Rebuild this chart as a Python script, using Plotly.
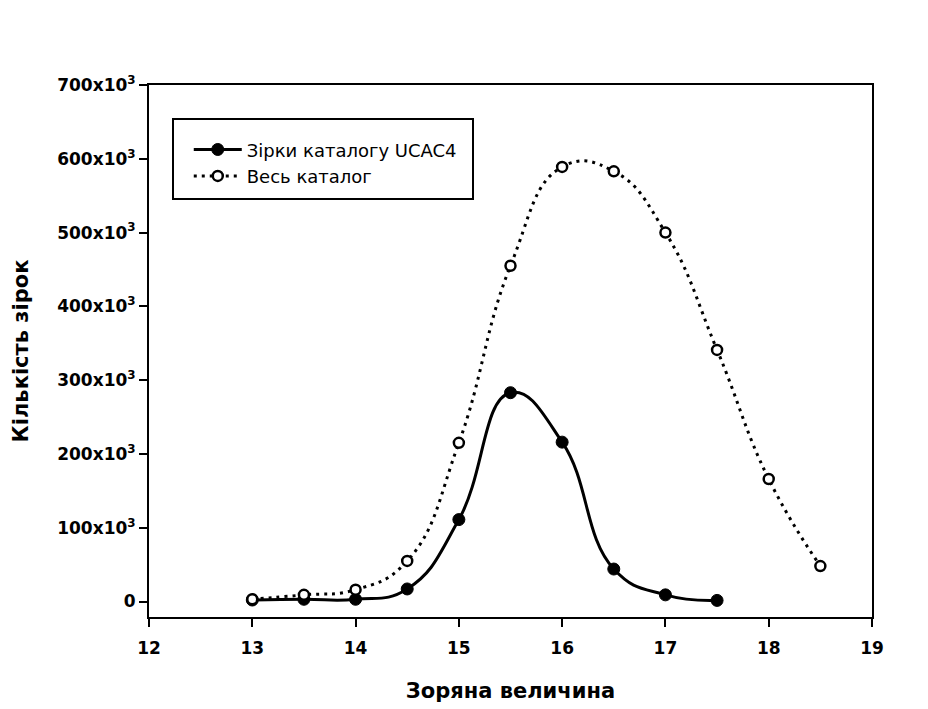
import plotly.graph_objects as go

# Data
magnitudes_ucac4 = [13, 13.5, 14, 14.5, 15, 15.5, 16, 16.5, 17, 17.5]
counts_ucac4 = [2000, 3000, 3000, 17000, 111000, 283000, 216000, 44000, 9000, 1500]

magnitudes_all = [13, 13.5, 14, 14.5, 15, 15.5, 16, 16.5, 17, 17.5, 18, 18.5]
counts_all = [3000, 9000, 16000, 55000, 215000, 455000, 589000, 583000, 500000, 341000, 166000, 48000]

y_tickvals = [0, 100000, 200000, 300000, 400000, 500000, 600000, 700000]
y_ticktext = ["0", "100x10<sup>3</sup>", "200x10<sup>3</sup>", "300x10<sup>3</sup>",
              "400x10<sup>3</sup>", "500x10<sup>3</sup>", "600x10<sup>3</sup>", "700x10<sup>3</sup>"]
x_tickvals = [12, 13, 14, 15, 16, 17, 18, 19]

name_ucac4 = "Зірки каталогу UCAC4"
name_all = "Весь каталог"
x_title = "Зоряна величина"
y_title = "Кількість зірок"

FONT = "DejaVu Sans, Liberation Sans, Arial, sans-serif"

fig = go.Figure()
fig.add_trace(go.Scatter(
    x=magnitudes_ucac4, y=counts_ucac4, name=name_ucac4,
    mode="lines+markers",
    line=dict(color="black", width=3, shape="spline", smoothing=1.3),
    marker=dict(symbol="circle", size=12, color="black", line=dict(color="black", width=1)),
))
fig.add_trace(go.Scatter(
    x=magnitudes_all, y=counts_all, name=name_all,
    mode="lines+markers",
    line=dict(color="black", width=3, shape="spline", smoothing=1.3, dash="3px,5px"),
    marker=dict(symbol="circle", size=10, color="white", line=dict(color="black", width=2.5)),
))

axis_common = dict(
    showline=True, linecolor="black", linewidth=2, mirror=True,
    ticks="outside", ticklen=8, tickwidth=2, tickcolor="black",
    showgrid=False, zeroline=False, automargin=False,
    tickfont=dict(family=FONT, size=17, color="black", weight="bold"),
)

fig.update_layout(
    width=928, height=709,
    margin=dict(l=149, r=56, t=85, b=92),
    paper_bgcolor="white", plot_bgcolor="white",
    showlegend=True,
    legend=dict(
        x=0.055, y=0.913, xanchor="left", yanchor="top",
        bgcolor="rgba(0,0,0,0)", borderwidth=0,
        font=dict(family=FONT, size=18, color="black"),
        itemwidth=48, tracegroupgap=0,
    ),
    xaxis=dict(
        range=[12, 19], tickvals=x_tickvals, ticktext=[str(v) for v in x_tickvals],
        ticklabelstandoff=7,
        title=dict(text=x_title, font=dict(family=FONT, size=21, color="black", weight="bold"), standoff=26),
        **axis_common,
    ),
    yaxis=dict(
        range=[-21000, 700000], tickvals=y_tickvals, ticktext=y_ticktext,
        ticklabelstandoff=0,
        title=dict(text=y_title, font=dict(family=FONT, size=21, color="black", weight="bold"), standoff=23),
        **axis_common,
    ),
    shapes=[dict(
        type="rect", xref="paper", yref="paper",
        x0=(173 - 149) / 723, x1=(473 - 149) / 723,
        y0=1 - (199 - 85) / 532, y1=1 - (119 - 85) / 532,
        line=dict(color="black", width=2), fillcolor="rgba(0,0,0,0)", layer="above",
    )],
)

fig.write_html("out.html")
